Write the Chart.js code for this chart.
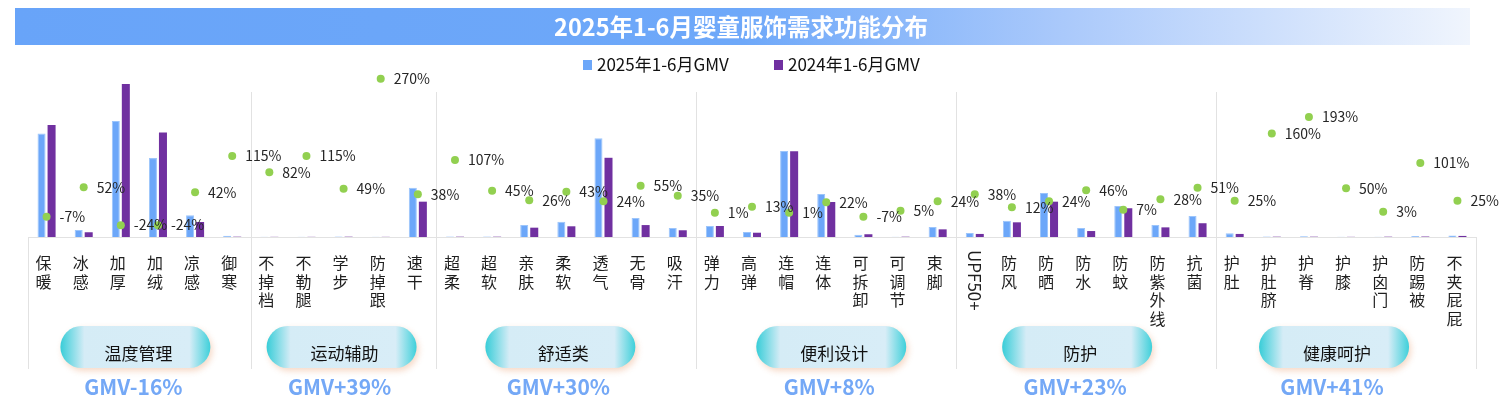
<!DOCTYPE html>
<html lang="zh">
<head>
<meta charset="utf-8">
<title>2025年1-6月婴童服饰需求功能分布</title>
<script src="https://cdn.jsdelivr.net/npm/chart.js@4.4.1/dist/chart.umd.min.js"></script>
<style>
  html, body { margin: 0; padding: 0; background: #fff; }
  canvas { display: block; }
</style>
</head>
<body>
<canvas id="chart" width="1506" height="413"></canvas>
<script>
// data
const title = '2025年1-6月婴童服饰需求功能分布';
const seriesNames = ['2025年1-6月GMV', '2024年1-6月GMV'];

const groups = ['温度管理', '运动辅助', '舒适类', '便利设计', '防护', '健康呵护'];
const groupSizes = [6, 5, 7, 7, 7, 7];
const groupGrowth = ['GMV-16%', 'GMV+39%', 'GMV+30%', 'GMV+8%', 'GMV+23%', 'GMV+41%'];

const categories = [
  '保暖', '冰感', '加厚', '加绒', '凉感', '御寒',
  '不掉档', '不勒腿', '学步', '防掉跟', '速干',
  '超柔', '超软', '亲肤', '柔软', '透气', '无骨', '吸汗',
  '弹力', '高弹', '连帽', '连体', '可拆卸', '可调节', '束脚',
  'UPF50+', '防风', '防晒', '防水', '防蚊', '防紫外线', '抗菌',
  '护肚', '护肚脐', '护脊', '护膝', '护囟门', '防踢被', '不夹屁屁'
];

// GMV index (加厚 2024 = 100)
const gmv2025 = [
  67.6, 4.6, 75.8, 51.6, 14.2, 0.8,
  0.2, 0.2, 0.3, 0.2, 32.2,
  0.3, 0.3, 7.8, 10.0, 64.5, 12.4, 5.9,
  7.2, 3.3, 56.2, 28.1, 1.5, 0.2, 6.5,
  2.6, 10.7, 28.8, 5.9, 20.3, 7.8, 13.7,
  2.4, 0.3, 0.5, 0.2, 0.2, 0.7, 0.9
];
const gmv2024 = [
  73.2, 3.1, 100, 68.4, 9.8, 0.2,
  0.1, 0.1, 0.2, 0.1, 23.1,
  0.2, 0.2, 6.1, 7.0, 51.8, 7.8, 4.4,
  7.2, 2.8, 56.0, 22.9, 1.8, 0.2, 5.0,
  2.0, 9.6, 23.1, 3.9, 18.8, 6.3, 9.0,
  2.0, 0.2, 0.2, 0.1, 0.2, 0.3, 0.7
];
// year-on-year growth, %
const growth = [
  -7, 52, -24, -24, 42, 115,
  82, 115, 49, 270, 38,
  107, 45, 26, 43, 24, 55, 35,
  1, 13, 1, 22, -7, 5, 24,
  38, 12, 24, 46, 7, 28, 51,
  25, 160, 193, 50, 3, 101, 25
];

const FONT = '"Noto Sans CJK SC", "Noto Sans", sans-serif';
const BLUE = '#6ca7f9';
const PURPLE = '#7030a0';
const GREEN = '#92d050';
const labelShift = [-4, -2, -6, 5, -9, -12];

function roundRect(ctx, x, y, w, h, r) {
  ctx.beginPath();
  ctx.moveTo(x + r, y);
  ctx.lineTo(x + w - r, y);
  ctx.arc(x + w - r, y + r, r, -Math.PI / 2, Math.PI / 2);
  ctx.lineTo(x + r, y + h);
  ctx.arc(x + r, y + r, r, Math.PI / 2, Math.PI * 1.5);
  ctx.closePath();
}

const decor = {
  id: 'decor',
  beforeDraw(chart) {
    const ctx = chart.ctx;
    const xs = chart.scales.x;
    const area = chart.chartArea;
    ctx.save();

    // title banner
    const g = ctx.createLinearGradient(15, 0, 1470, 0);
    g.addColorStop(0, '#68a4f9');
    g.addColorStop(0.5, '#6ea8f9');
    g.addColorStop(0.72, '#aac9fb');
    g.addColorStop(1, '#f0f5fd');
    ctx.fillStyle = g;
    ctx.fillRect(15, 8, 1455, 37);
    ctx.fillStyle = '#fff';
    ctx.font = 'bold 23.5px ' + FONT;
    ctx.textAlign = 'center';
    ctx.textBaseline = 'middle';
    ctx.fillText(title, 741, 27);

    // legend
    ctx.font = '17px ' + FONT;
    ctx.textAlign = 'left';
    ctx.fillStyle = BLUE;
    ctx.fillRect(583, 60, 9, 10);
    ctx.fillStyle = PURPLE;
    ctx.fillRect(774, 60, 9, 10);
    ctx.fillStyle = '#111';
    ctx.fillText(seriesNames[0], 597, 65);
    ctx.fillText(seriesNames[1], 788, 65);

    // group boundaries
    const edge = i => {
      if (i === 0) return area.left;
      if (i === categories.length) return area.right;
      return (xs.getPixelForValue(i - 1) + xs.getPixelForValue(i)) / 2;
    };
    ctx.strokeStyle = '#e2e2e2';
    ctx.lineWidth = 1;
    let start = 0;
    const bounds = [0];
    groupSizes.forEach(n => { start += n; bounds.push(start); });
    bounds.forEach(b => {
      const px = Math.round(edge(b)) + 0.5;
      const top = (b === 0 || b === categories.length) ? area.bottom : 92;
      ctx.beginPath();
      ctx.moveTo(px, top);
      ctx.lineTo(px, 369);
      ctx.stroke();
    });
    ctx.beginPath();
    ctx.moveTo(area.left, area.bottom + 0.5);
    ctx.lineTo(area.right, area.bottom + 0.5);
    ctx.stroke();

    // category labels, one character per line
    ctx.fillStyle = '#1f1f1f';
    ctx.textAlign = 'center';
    ctx.textBaseline = 'middle';
    categories.forEach((c, i) => {
      const cx = xs.getPixelForValue(i) - 3;
      if (/^[A-Z0-9+]+$/.test(c)) {
        ctx.save();
        ctx.font = '17px ' + FONT;
        ctx.translate(cx + 3, 250);
        ctx.rotate(Math.PI / 2);
        ctx.textAlign = 'left';
        ctx.fillText(c, 0, 0);
        ctx.restore();
        return;
      }
      ctx.font = '16px ' + FONT;
      [...c].forEach((ch, k) => ctx.fillText(ch, cx, 263 + k * 18.5));
    });

    // group pills and growth text
    groups.forEach((name, gi) => {
      const cx = (edge(bounds[gi]) + edge(bounds[gi + 1])) / 2 + labelShift[gi];
      const w = 150, h = 42, x0 = cx - w / 2, y0 = 326;
      ctx.save();
      ctx.shadowColor = 'rgba(235,170,130,0.45)';
      ctx.shadowBlur = 6;
      ctx.shadowOffsetX = 2;
      ctx.shadowOffsetY = 3;
      const pg = ctx.createLinearGradient(x0, 0, x0 + w, 0);
      pg.addColorStop(0, '#38cdd8');
      pg.addColorStop(0.16, '#d5ecf6');
      pg.addColorStop(0.86, '#d8edf7');
      pg.addColorStop(1, '#3fd0da');
      ctx.fillStyle = pg;
      roundRect(ctx, x0, y0, w, h, h / 2);
      ctx.fill();
      ctx.restore();

      ctx.fillStyle = '#111';
      ctx.font = '17px ' + FONT;
      ctx.fillText(name, cx + 3, y0 + 28);

      ctx.fillStyle = '#74a8f6';
      ctx.font = 'bold 21px ' + FONT;
      ctx.fillText(groupGrowth[gi], cx - 2, 387);
    });

    ctx.restore();
  },
  afterDatasetsDraw(chart) {
    const ctx = chart.ctx;
    const meta = chart.getDatasetMeta(2);
    ctx.save();
    ctx.fillStyle = '#262626';
    ctx.font = '14px ' + FONT;
    ctx.textAlign = 'left';
    ctx.textBaseline = 'middle';
    meta.data.forEach((pt, i) => {
      ctx.fillText(growth[i] + '%', pt.x + 13, pt.y);
    });
    ctx.restore();
  }
};

new Chart(document.getElementById('chart'), {
  type: 'bar',
  data: {
    labels: categories,
    datasets: [
      {
        label: seriesNames[0],
        data: gmv2025,
        backgroundColor: BLUE,
        borderColor: '#9cc5fb',
        borderWidth: { left: 1, right: 1, top: 1, bottom: 0 },
        categoryPercentage: 0.54,
        barPercentage: 0.8,
        order: 2
      },
      {
        label: seriesNames[1],
        data: gmv2024,
        backgroundColor: PURPLE,
        categoryPercentage: 0.54,
        barPercentage: 0.8,
        order: 2
      },
      {
        label: '同比',
        type: 'line',
        data: growth,
        yAxisID: 'y2',
        showLine: false,
        pointRadius: 4,
        pointBorderWidth: 0,
        pointBackgroundColor: GREEN,
        order: 1
      }
    ]
  },
  options: {
    responsive: false,
    devicePixelRatio: 1,
    animation: false,
    layout: { padding: { left: 28, right: 30, top: 70, bottom: 176 } },
    plugins: {
      legend: { display: false },
      title: { display: false },
      tooltip: { enabled: false }
    },
    scales: {
      x: { display: false, offset: true },
      y: { display: false, min: 0, max: 109.2 },
      y2: { display: false, min: -47.8, max: 287.6 }
    }
  },
  plugins: [decor]
});
</script>
</body>
</html>
